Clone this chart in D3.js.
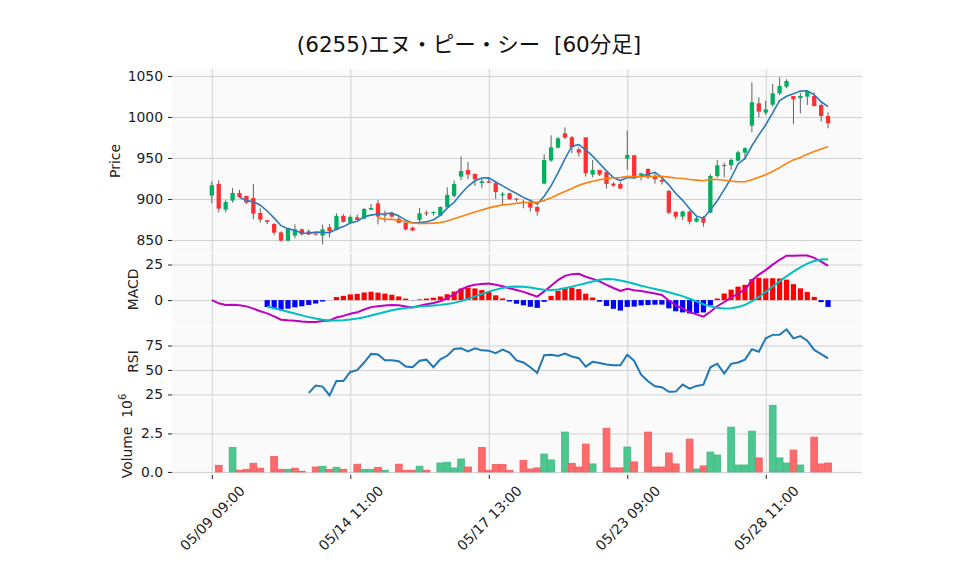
<!DOCTYPE html>
<html><head><meta charset="utf-8">
<script src="https://cdn.jsdelivr.net/npm/d3@7"></script>
<style>
body{margin:0;background:#fff;}
text{font-family:"DejaVu Sans","Noto Sans CJK JP",sans-serif;}
</style>
</head><body>
<svg id="chart" width="958" height="575"></svg>
<script>
const title = "(6255)エヌ・ピー・シー  [60分足]";
const days = ["05/09","05/10","05/13","05/14","05/15","05/16","05/17","05/20","05/21","05/22","05/23","05/24","05/27","05/28","05/29"];
const hours = ["09:00","10:00","11:00","12:00","13:00","14:00"];
const xTickIndex = [0,20,40,60,80];
const priceTicks = [850,900,950,1000,1050];
const macdTicks = [0,25];
const rsiTicks = [25,50,75];
const volTicks = [0,2.5e6];

const opens = [904.1,918.3,887.0,898.0,907.3,903.7,901.2,882.9,874.0,869.5,
859.3,849.2,855.3,863.0,860.6,857.7,855.3,865.4,862.2,879.3,
871.1,877.6,876.0,887.0,894.7,880.9,882.5,876.0,871.1,865.0,
874.4,883.3,883.3,879.7,889.8,903.7,927.2,935.4,930.5,919.5,
921.5,919.1,904.5,906.9,900.4,896.7,895.9,890.2,918.7,946.8,
962.6,980.1,975.2,960.6,975.2,929.7,935.4,932.9,918.7,918.3,
949.2,953.3,929.3,936.6,928.0,923.2,909.8,884.2,878.5,884.6,
872.4,877.2,883.3,928.0,941.4,941.1,946.7,956.5,989.4,1016.7,
1005.3,1015.0,1028.9,1037.0,1025.6,1022.8,1024.8,1025.6,1014.6,1001.2];
const highs = [921.5,922.8,898.8,913.4,911.0,903.7,918.3,888.6,874.0,870.3,
860.6,864.2,869.0,863.8,863.0,858.9,868.7,869.5,882.5,881.7,
880.0,881.0,889.0,893.9,898.8,885.8,884.5,878.5,871.1,866.2,
889.0,885.8,884.9,891.0,914.2,922.4,952.0,945.1,931.3,925.2,
925.2,921.5,908.5,907.7,901.2,898.8,897.5,891.8,954.5,977.6,
975.6,987.4,976.8,963.0,975.2,947.6,935.4,932.9,920.7,920.7,
983.3,953.3,931.3,937.4,931.3,925.2,911.0,885.0,885.8,885.8,
878.5,879.3,930.1,947.6,944.3,949.2,959.0,963.0,1042.3,1024.0,
1019.9,1040.2,1048.4,1045.9,1025.6,1029.3,1032.9,1030.1,1016.6,1005.7];
const lows = [894.7,883.7,883.7,895.5,901.6,893.9,875.2,871.1,869.5,856.0,
848.0,848.0,852.0,855.3,855.7,855.7,844.7,853.3,861.4,871.1,
870.3,874.0,875.2,886.0,869.0,871.5,877.6,870.3,861.4,861.4,
869.0,879.3,880.0,879.3,889.0,902.0,923.0,924.0,915.9,913.0,
919.5,900.0,893.9,899.2,896.7,888.6,884.6,879.7,917.9,945.5,
961.4,973.2,955.7,951.6,927.2,926.4,928.0,912.6,914.6,911.8,
935.4,924.4,922.4,924.4,918.7,917.5,881.3,875.2,874.4,869.0,
871.5,866.3,882.5,926.0,926.4,935.4,945.5,947.6,981.3,999.6,
1002.4,1012.6,1026.8,1035.0,991.1,1004.5,1014.6,1012.6,994.3,986.2];
const closes = [916.7,888.2,896.3,907.3,902.4,895.5,882.1,874.8,872.0,858.9,
849.2,864.2,863.0,856.9,856.9,856.5,863.0,860.6,879.3,872.0,
878.1,874.4,887.8,889.0,878.5,879.7,878.5,871.1,863.0,861.4,
882.5,882.1,884.1,890.2,904.9,918.3,934.1,929.7,924.0,921.5,
919.9,908.5,906.1,899.6,899.6,895.9,889.4,884.6,947.6,963.0,
974.0,974.8,963.0,956.5,931.3,935.4,929.7,918.3,916.3,912.6,
953.7,927.2,931.3,926.4,924.0,921.1,883.3,878.5,884.6,872.4,
876.4,871.1,928.0,941.0,940.2,947.6,956.9,961.8,1017.9,1006.5,
1009.3,1028.9,1037.8,1043.9,1021.5,1025.6,1030.9,1013.4,1001.2,992.3];
const volumes = [0,430000,0,1590000,110000,170000,560000,240000,0,1010000,
170000,170000,240000,40000,0,320000,370000,170000,300000,170000,
0,500000,170000,170000,300000,110000,0,500000,110000,110000,
370000,110000,0,580000,630000,260000,840000,320000,0,1590000,
110000,480000,480000,110000,0,750000,190000,260000,1160000,780000,
0,2590000,560000,320000,1810000,520000,0,2840000,260000,260000,
1620000,650000,0,2590000,320000,320000,1230000,520000,0,2130000,
190000,390000,1290000,1100000,0,2910000,450000,450000,2650000,910000,
0,4330000,910000,580000,1420000,450000,0,2260000,520000,580000];

// ---- indicators derived from the closes (as the original chart does)
const N = closes.length;
function sma(arr, n){ return arr.map((v,i)=> i<n-1 ? null : d3.mean(arr.slice(i-n+1,i+1))); }
function ema(arr, span){ const a=2/(span+1); const out=[]; arr.forEach((v,i)=>out.push(i===0?v:a*v+(1-a)*out[i-1])); return out; }
const ma5 = sma(closes,5), ma25 = sma(closes,25);
const e12 = ema(closes,12), e26 = ema(closes,26);
const macd = closes.map((c,i)=>e12[i]-e26[i]);
const signal = sma(macd,9);
const hist = macd.map((v,i)=> signal[i]==null?null:v-signal[i]);
const diffs = closes.map((c,i)=> i===0?0:c-closes[i-1]);
const rsi = closes.map((c,i)=>{
  if(i<14) return null;
  const w = diffs.slice(i-13,i+1);
  const g = d3.sum(w,d=>d>0?d:0)/14, l = d3.sum(w,d=>d<0?-d:0)/14;
  return l===0?100:100-100/(1+g/l);
});
const dates = [];
days.forEach(d=>hours.forEach(h=>dates.push(d+" "+h)));

// ---- layout
const svg = d3.select("#chart");
const L=172, R=862;
const x = d3.scaleLinear().domain([-5.75, 93.9]).range([L,R]);
const step = x(1)-x(0);
const yP = d3.scaleLinear().domain([834.1,1058.5]).range([253,69]);
const yM = d3.scaleLinear().domain([-18.2,33.1]).range([326,253]);
const yR = d3.scaleLinear().domain([22.4,94.9]).range([397,326]);
const yV = d3.scaleLinear().domain([-0.2e6,4.87e6]).range([475,397]);
const panels = [[yP,priceTicks,d=>d],[yM,macdTicks,d=>d],[yR,rsiTicks,d=>d],[yV,volTicks,d=>(d/1e6).toFixed(1)]];

const C = {up:"#00b060", down:"#fe3032", wick:"#606060", vup:"#4dc790", vdown:"#fd6b6c", face:"#fafafa", grid:"#d0d0d0"};
const FS = 13.9;

panels.forEach(([y,ticks,fmt],k)=>{
  const [b,t] = y.range();
  svg.append("rect").attr("x",L).attr("y",t).attr("width",R-L).attr("height",b-t).attr("fill",C.face);
  svg.append("clipPath").attr("id","clip"+k).append("rect").attr("x",L).attr("y",t).attr("width",R-L).attr("height",b-t);
  svg.append("g").attr("transform",`translate(${L},0)`)
    .call(d3.axisLeft(y).tickValues(ticks).tickSize(-(R-L)).tickFormat(""))
    .call(g=>g.select(".domain").remove())
    .call(g=>g.selectAll("line").attr("stroke",C.grid).attr("stroke-width",1));
  svg.append("g").attr("transform",`translate(0,${b})`)
    .call(d3.axisBottom(x).tickValues(xTickIndex).tickSize(-(b-t)).tickFormat(""))
    .call(g=>g.select(".domain").remove())
    .call(g=>g.selectAll("line").attr("stroke",C.grid).attr("stroke-width",1));
  svg.append("g").attr("transform",`translate(${L},0)`)
    .call(d3.axisLeft(y).tickValues(ticks).tickSize(4).tickPadding(5).tickFormat(fmt))
    .call(g=>g.select(".domain").remove())
    .call(g=>g.selectAll("line").attr("stroke","#222"))
    .call(g=>g.selectAll("text").attr("font-size",FS).attr("fill","#222").style("font-family","'DejaVu Sans'"));
});
[253,326,397].forEach(yy=>svg.append("line").attr("x1",L).attr("x2",R).attr("y1",yy).attr("y2",yy).attr("stroke","#ffffff").attr("stroke-width",1.2));

// ---- candles
const cg = svg.append("g").attr("clip-path","url(#clip0)");
const idx = d3.range(N);
cg.selectAll("line.wick").data(idx).join("line")
  .attr("x1",i=>x(i)).attr("x2",i=>x(i)).attr("y1",i=>yP(highs[i])).attr("y2",i=>yP(lows[i]))
  .attr("stroke",C.wick).attr("stroke-width",1);
const bw = step*0.62;
cg.selectAll("rect.body").data(idx).join("rect")
  .attr("x",i=>x(i)-bw/2).attr("width",bw)
  .attr("y",i=>yP(Math.max(opens[i],closes[i])))
  .attr("height",i=>Math.max(1,Math.abs(yP(opens[i])-yP(closes[i]))))
  .attr("fill",i=>closes[i]>=opens[i]?C.up:C.down);
const lineGen = y => d3.line().defined(d=>d!=null).x((d,i)=>x(i)).y(d=>y(d));
cg.append("path").datum(ma5).attr("d",lineGen(yP)).attr("fill","none").attr("stroke","#2a7ab8").attr("stroke-width",1.6);
cg.append("path").datum(ma25).attr("d",lineGen(yP)).attr("fill","none").attr("stroke","#ff7f0e").attr("stroke-width",1.6);

// ---- MACD
const mg = svg.append("g").attr("clip-path","url(#clip1)");
const hw = step*0.75;
mg.selectAll("rect").data(idx.filter(i=>hist[i]!=null)).join("rect")
  .attr("x",i=>x(i)-hw/2).attr("width",hw)
  .attr("y",i=>Math.min(yM(0),yM(hist[i]))).attr("height",i=>Math.abs(yM(hist[i])-yM(0)))
  .attr("fill",i=>hist[i]>=0?"#ff0000":"#0000ff");
mg.append("path").datum(macd).attr("d",lineGen(yM)).attr("fill","none").attr("stroke","#bf00bf").attr("stroke-width",2);
mg.append("path").datum(signal).attr("d",lineGen(yM)).attr("fill","none").attr("stroke","#00bfbf").attr("stroke-width",2);

// ---- RSI
const rg = svg.append("g").attr("clip-path","url(#clip2)");
rg.append("path").datum(rsi).attr("d",lineGen(yR)).attr("fill","none").attr("stroke","#1f77b4").attr("stroke-width",2);

// ---- Volume
const vg = svg.append("g").attr("clip-path","url(#clip3)");
const vw = step*0.98;
vg.selectAll("rect").data(idx.filter(i=>volumes[i]>0)).join("rect")
  .attr("x",i=>x(i)-vw/2).attr("width",vw)
  .attr("y",i=>yV(volumes[i])).attr("height",i=>yV(0)-yV(volumes[i]))
  .attr("fill",i=>(i>0&&closes[i]>=closes[i-1])?C.vup:C.vdown)
  .attr("stroke",i=>(i>0&&closes[i]>=closes[i-1])?"#3fb882":"#f55a5b").attr("stroke-width",0.8);

// ---- x axis
const xa = svg.append("g").attr("transform",`translate(0,475)`)
  .call(d3.axisBottom(x).tickValues(xTickIndex).tickSize(4).tickFormat(i=>dates[i]));
xa.select(".domain").remove();
xa.selectAll("line").attr("stroke","#222");
xa.selectAll("text").attr("font-size",FS).attr("fill","#222").style("font-family","'DejaVu Sans'")
  .attr("text-anchor","middle").attr("dy",null).attr("y",null)
  .attr("transform","translate(0,43) rotate(-45)").attr("dominant-baseline","central");

// ---- labels
function ylab(txt,xx,yy){ return svg.append("text").attr("transform",`translate(${xx},${yy}) rotate(-90)`).attr("text-anchor","middle").attr("font-size",FS).attr("fill","#222").text(txt); }
ylab("Price",120,161);
ylab("MACD",138,289.5);
ylab("RSI",138,361.5);
const vl = svg.append("text").attr("transform",`translate(132,436) rotate(-90)`).attr("text-anchor","middle").attr("font-size",FS).attr("fill","#222").attr("xml:space","preserve").style("white-space","pre");
vl.append("tspan").text("Volume  10");
vl.append("tspan").attr("dy",-6).attr("font-size",10).text("6");

svg.append("text").attr("x",469).attr("y",52).attr("text-anchor","middle").attr("font-size",21.5).attr("fill","#111")
  .style("white-space","pre").attr("xml:space","preserve").text(title);
</script>
</body></html>
